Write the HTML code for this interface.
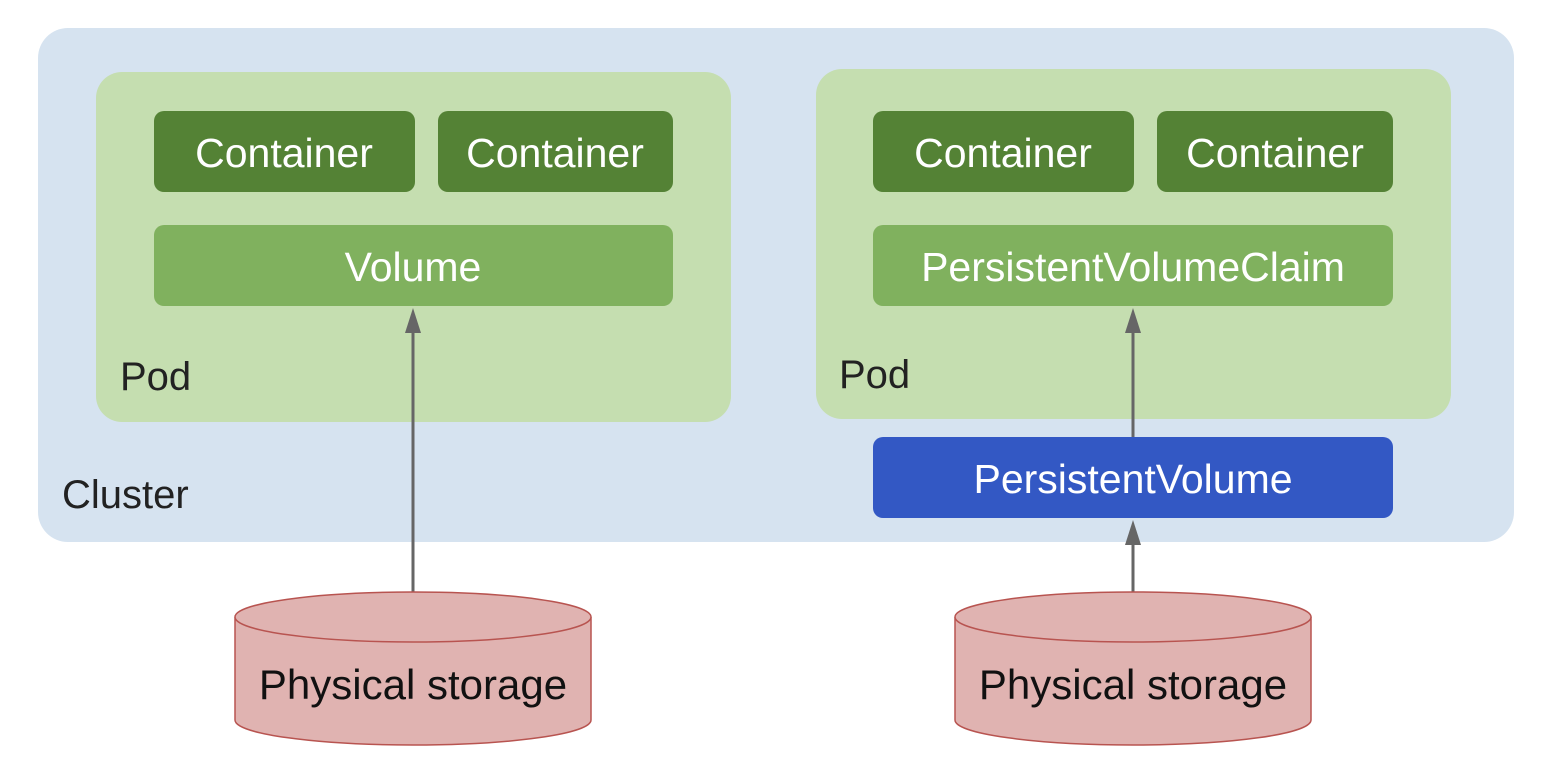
<!DOCTYPE html>
<html><head><meta charset="utf-8"><style>
html,body{margin:0;padding:0;background:#fff;}
svg{display:block;}
text{font-family:"Liberation Sans",sans-serif;}
</style></head><body>
<svg width="1548" height="774" viewBox="0 0 1548 774" xmlns="http://www.w3.org/2000/svg">
<rect x="38" y="28" width="1476" height="514" rx="30" fill="#d6e3f0"/>
<rect x="96" y="72" width="635" height="350" rx="26" fill="#c5deb0"/>
<rect x="816" y="69" width="635" height="350" rx="26" fill="#c5deb0"/>
<rect x="154" y="111" width="261" height="81" rx="10" fill="#548235"/>
<rect x="438" y="111" width="235" height="81" rx="10" fill="#548235"/>
<rect x="873" y="111" width="261" height="81" rx="10" fill="#548235"/>
<rect x="1157" y="111" width="236" height="81" rx="10" fill="#548235"/>
<rect x="154" y="225" width="519" height="81" rx="10" fill="#80b15e"/>
<rect x="873" y="225" width="520" height="81" rx="10" fill="#80b15e"/>
<rect x="873" y="437" width="520" height="81" rx="10" fill="#3358c4"/>
<g font-size="41" fill="#fff" text-anchor="middle">
<text x="284" y="167">Container</text>
<text x="555" y="167">Container</text>
<text x="1003" y="167">Container</text>
<text x="1275" y="167">Container</text>
<text x="413" y="281">Volume</text>
<text x="1133" y="281">PersistentVolumeClaim</text>
<text x="1133" y="493">PersistentVolume</text>
</g>
<g font-size="40" fill="#222">
<text x="120" y="390">Pod</text>
<text x="839" y="388">Pod</text>
<text x="62" y="508">Cluster</text>
</g>
<g stroke="#666" stroke-width="3">
<line x1="413" y1="592" x2="413" y2="330"/>
<line x1="1133" y1="437" x2="1133" y2="330"/>
<line x1="1133" y1="592" x2="1133" y2="540"/>
</g>
<g fill="#666">
<polygon points="413,308 405,333 421,333"/>
<polygon points="1133,308 1125,333 1141,333"/>
<polygon points="1133,520 1125,545 1141,545"/>
</g>
<g fill="#e0b3b1" stroke="#b85450" stroke-width="1.5">
<path d="M235,617 L235,720 A178,25 0 0 0 591,720 L591,617"/>
<ellipse cx="413" cy="617" rx="178" ry="25"/>
<path d="M955,617 L955,720 A178,25 0 0 0 1311,720 L1311,617"/>
<ellipse cx="1133" cy="617" rx="178" ry="25"/>
</g>
<g font-size="42" fill="#111" text-anchor="middle">
<text x="413" y="699">Physical storage</text>
<text x="1133" y="699">Physical storage</text>
</g>
</svg>
</body></html>
